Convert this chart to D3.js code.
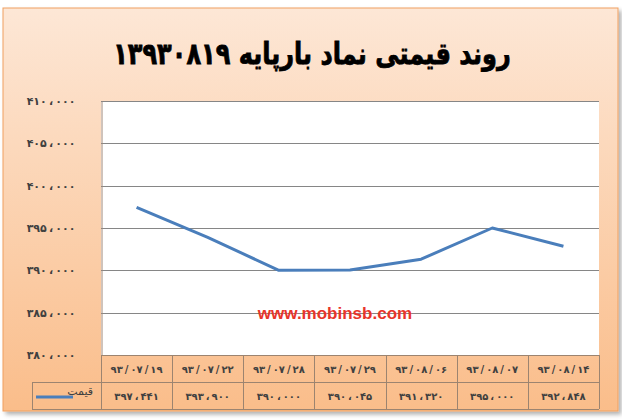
<!DOCTYPE html>
<html>
<head>
<meta charset="utf-8">
<script src="https://cdn.jsdelivr.net/npm/d3@7"></script>
<style>
  body { margin: 0; background: #fff; }
  svg { display: block; }
</style>
</head>
<body>
<div id="chart"></div>
<script>
// chart data
const title = "روند قیمتی نماد بارپایه ۱۳۹۳۰۸۱۹";
const dates = ["93/07/19", "93/07/22", "93/07/28", "93/07/29", "93/08/06", "93/08/07", "93/08/14"];
const prices = [397441, 393900, 390000, 390045, 391320, 395000, 392848];
const seriesName = "قیمت";
const yTicks = [380000, 385000, 390000, 395000, 400000, 405000, 410000];
const watermark = "www.mobinsb.com";

// persian digits
const fa = s => String(s).replace(/\d/g, d => "۰۱۲۳۴۵۶۷۸۹"[d]);
const faNum = v => fa(d3.format(",")(v)).replace(/,/g, "\u2009،\u2009");
const faDate = s => fa(s).replace(/\//g, "\u2009/\u2009");

const width = 622, height = 420;
const box = { x: 3, y: 8, w: 615, h: 403 };
const plot = { left: 101, right: 599, top: 101, bottom: 355 };
const rowH = 27;

const svg = d3.select("#chart").append("svg")
    .attr("width", width)
    .attr("height", height);

const defs = svg.append("defs");
const grad = defs.append("linearGradient")
    .attr("id", "bg")
    .attr("x1", 0).attr("y1", 0).attr("x2", 0).attr("y2", 1);
grad.append("stop").attr("offset", "0%").attr("stop-color", "#fde7d6");
grad.append("stop").attr("offset", "100%").attr("stop-color", "#fabd8a");

const shadow = defs.append("filter").attr("id", "shadow")
    .attr("x", "-5%").attr("y", "-5%").attr("width", "110%").attr("height", "110%");
shadow.append("feDropShadow")
    .attr("dx", 3).attr("dy", 3).attr("stdDeviation", 2)
    .attr("flood-color", "#000").attr("flood-opacity", 0.3);

// outer chart box
svg.append("rect")
    .attr("x", box.x).attr("y", box.y)
    .attr("width", box.w).attr("height", box.h)
    .attr("fill", "url(#bg)")
    .attr("stroke", "#f0a060")
    .attr("stroke-width", 1)
    .attr("filter", "url(#shadow)");

// title (condensed horizontally to look like the original heavy font)
svg.append("text")
    .attr("transform", "translate(312,64) scale(0.8,1)")
    .attr("text-anchor", "middle")
    .attr("direction", "rtl")
    .attr("font-family", "DejaVu Sans")
    .attr("font-weight", "bold")
    .attr("font-size", "30px")
    .attr("fill", "#000")
    .attr("stroke", "#000")
    .attr("stroke-width", 0.8)
    .text(title);

// scales
const x = d3.scaleBand()
    .domain(dates)
    .range([plot.left, plot.right]);

const y = d3.scaleLinear()
    .domain([380000, 410000])
    .range([plot.bottom, plot.top]);

// plot area
svg.append("rect")
    .attr("x", plot.left).attr("y", plot.top)
    .attr("width", plot.right - plot.left)
    .attr("height", plot.bottom - plot.top)
    .attr("fill", "#fff");

// gridlines
svg.append("g")
    .selectAll("line")
    .data(yTicks.slice(1))
    .join("line")
    .attr("x1", plot.left).attr("x2", plot.right)
    .attr("y1", d => Math.round(y(d)) + 0.5)
    .attr("y2", d => Math.round(y(d)) + 0.5)
    .attr("stroke", "#868686")
    .attr("stroke-width", 1);

// y axis
const yAxis = svg.append("g")
    .attr("transform", `translate(${plot.left + 0.5},0)`)
    .call(d3.axisLeft(y).tickValues(yTicks).tickSize(0).tickPadding(26).tickFormat(faNum));
yAxis.select(".domain").attr("stroke", "#a08878");
yAxis.selectAll("text")
    .attr("font-family", "DejaVu Sans")
    .attr("font-weight", "bold")
    .attr("font-size", "11px")
    .attr("fill", "#404040");

// line
const line = d3.line()
    .x((d, i) => x(dates[i]) + x.bandwidth() / 2)
    .y(d => y(d));

svg.append("path")
    .datum(prices)
    .attr("d", line)
    .attr("fill", "none")
    .attr("stroke", "#4a7ebb")
    .attr("stroke-width", 3)
    .attr("stroke-linejoin", "round");

// watermark
svg.append("text")
    .attr("x", 335)
    .attr("y", 319)
    .attr("text-anchor", "middle")
    .attr("font-family", "Liberation Sans")
    .attr("font-weight", "bold")
    .attr("font-size", "17px")
    .attr("fill", "#e8352a")
    .text(watermark);

// data table
const tableStroke = "#9c8470";
const row1 = plot.bottom, row2 = plot.bottom + rowH, row3 = plot.bottom + rowH * 2;
const legendLeft = 32;
const table = svg.append("g");

table.append("line")
    .attr("x1", plot.left).attr("x2", plot.right)
    .attr("y1", row1 + 0.5).attr("y2", row1 + 0.5)
    .attr("stroke", tableStroke);
table.selectAll(".hline")
    .data([row2, row3])
    .join("line")
    .attr("class", "hline")
    .attr("x1", legendLeft).attr("x2", plot.right)
    .attr("y1", d => d + 0.5).attr("y2", d => d + 0.5)
    .attr("stroke", tableStroke);

// vertical separators
const seps = dates.map(d => x(d)).concat([plot.right]);
table.selectAll(".vline")
    .data(seps)
    .join("line")
    .attr("class", "vline")
    .attr("x1", d => Math.round(d) + 0.5).attr("x2", d => Math.round(d) + 0.5)
    .attr("y1", row1).attr("y2", row3)
    .attr("stroke", tableStroke);
table.append("line")
    .attr("x1", legendLeft + 0.5).attr("x2", legendLeft + 0.5)
    .attr("y1", row2).attr("y2", row3)
    .attr("stroke", tableStroke);

// category labels
table.selectAll(".cat")
    .data(dates)
    .join("text")
    .attr("class", "cat")
    .attr("x", d => x(d) + x.bandwidth() / 2)
    .attr("y", row1 + rowH / 2 + 4)
    .attr("text-anchor", "middle")
    .attr("font-family", "DejaVu Sans")
    .attr("font-weight", "bold")
    .attr("font-size", "10px")
    .attr("fill", "#404040")
    .text(d => faDate(d));

// value labels
table.selectAll(".val")
    .data(prices)
    .join("text")
    .attr("class", "val")
    .attr("x", (d, i) => x(dates[i]) + x.bandwidth() / 2)
    .attr("y", row2 + rowH / 2 + 4)
    .attr("text-anchor", "middle")
    .attr("font-family", "DejaVu Sans")
    .attr("font-weight", "bold")
    .attr("font-size", "10px")
    .attr("fill", "#404040")
    .text(d => faNum(d));

// legend key
table.append("line")
    .attr("x1", 36).attr("x2", 73)
    .attr("y1", row2 + 15).attr("y2", row2 + 15)
    .attr("stroke", "#4a7ebb")
    .attr("stroke-width", 3);
table.append("text")
    .attr("x", 93)
    .attr("y", row2 + 13)
    .attr("text-anchor", "end")
    .attr("font-family", "DejaVu Sans")
    .attr("font-size", "11px")
    .attr("fill", "#404040")
    .text(seriesName);
</script>
</body>
</html>
